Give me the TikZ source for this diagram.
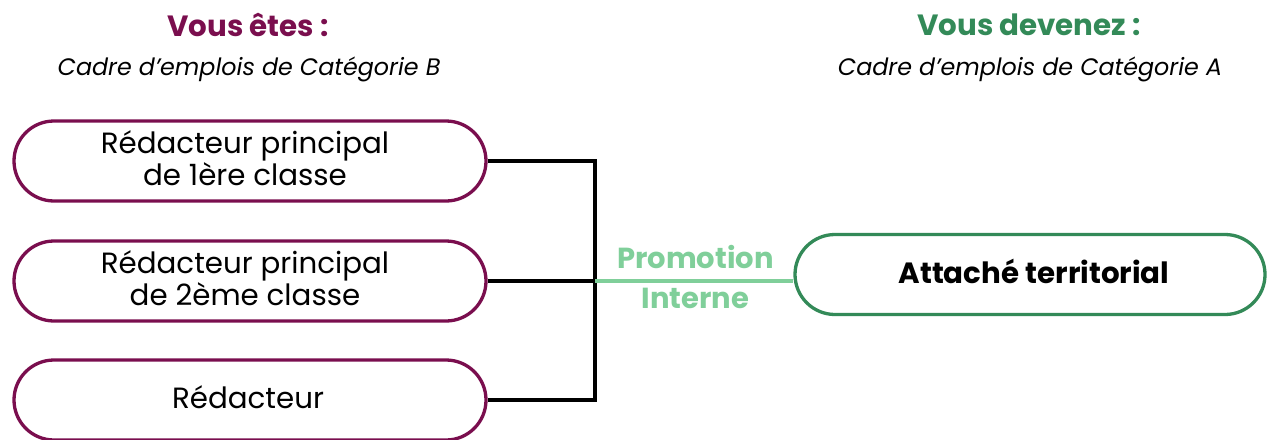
\documentclass[tikz,border=0pt]{standalone}
\usepackage{fontspec}
\setmainfont{Poppins}
\definecolor{purp}{HTML}{7A0E4E}
\definecolor{dgreen}{HTML}{338A58}
\definecolor{lgreen}{HTML}{80CF9A}
\tikzset{
  pill/.style={draw=purp, line width=3.3pt, rounded corners=40pt, minimum width=472pt, minimum height=80pt, inner sep=0pt},
  gpill/.style={pill, draw=dgreen, minimum width=470pt},
  lbl/.style={align=center, inner sep=0pt, font=\fontsize{29.3}{30}\selectfont},
  glbl/.style={lbl, font=\fontsize{29.3}{30}\selectfont\bfseries},
  conn/.style={line width=3.5pt},
  gconn/.style={line width=3.5pt, draw=lgreen},
}
\begin{document}
\begin{tikzpicture}[x=1pt,y=-1pt]
\useasboundingbox (0,0) rectangle (1268,439);
\node[font=\fontsize{29.3}{30}\selectfont\bfseries, text=purp] (t1) at (248,25) {Vous êtes :};
\node[font=\fontsize{23.8}{26}\selectfont\itshape] (s1) at (249,69.5) {Cadre d’emplois de Catégorie B};
\node[font=\fontsize{29.3}{30}\selectfont\bfseries, text=dgreen] (t2) at (1029,25) {Vous devenez :};
\node[font=\fontsize{23.8}{26}\selectfont\itshape] (s2) at (1030,69.5) {Cadre d’emplois de Catégorie A};

\node[pill] (b1) at (250,161) {};
\node[pill] (b2) at (250,281) {};
\node[pill] (b3) at (250,400) {};
\node[gpill] (a) at (1030,274.5) {};
\node[lbl] (l1) at ([xshift=-5pt,yshift=3pt]b1.center) {Rédacteur principal\\de 1ère classe};
\node[lbl] (l2) at ([xshift=-5pt,yshift=3pt]b2.center) {Rédacteur principal\\de 2ème classe};
\node[lbl] (l3) at ([xshift=-2pt,yshift=3pt]b3.center) {Rédacteur};
\node[glbl] (la) at ([xshift=4pt,yshift=3pt]a.center) {Attaché territorial};

\coordinate (j1) at (595,161);
\coordinate (j2) at (595,281);
\coordinate (j3) at (595,400);
\draw[conn] (b1.east) -- (j1) -- (j3) -- (b3.east);
\draw[conn] (b2.east) -- (j2);
\draw[gconn] (j2) -- (a.west |- j2);
\node[font=\fontsize{29}{40}\selectfont\bfseries, text=lgreen, align=center] (p) at (695.5,277) {Promotion\\Interne};
\end{tikzpicture}
\end{document}
